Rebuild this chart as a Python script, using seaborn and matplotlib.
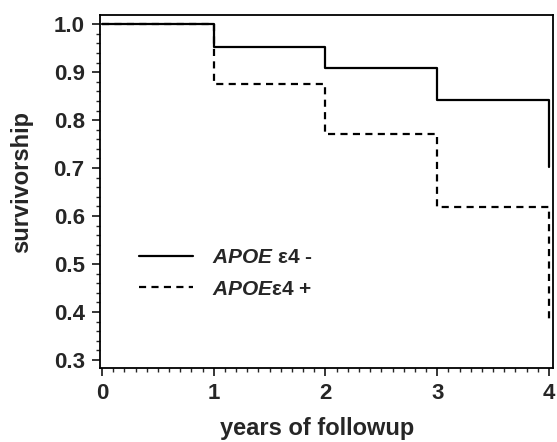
import pandas as pd
import matplotlib
matplotlib.use("Agg")
import matplotlib.pyplot as plt
import seaborn as sns
from matplotlib.ticker import MultipleLocator

years = [0, 1, 2, 3, 4]
surv_e4_neg = [1.0, 0.952, 0.909, 0.841, 0.703]
surv_e4_pos = [1.0, 0.875, 0.771, 0.619, 0.385]
groups = ["APOE ε4 -", "APOE ε4 +"]
legend_labels = [r"$\mathbfit{APOE}$ ε4 -", r"$\mathbfit{APOE}$ε4 +"]

df = pd.DataFrame({
    "year": years * 2,
    "surv": surv_e4_neg + surv_e4_pos,
    "group": [groups[0]] * len(years) + [groups[1]] * len(years),
})

sns.set_style("ticks")
plt.rcParams["font.family"] = ["Liberation Sans", "DejaVu Sans"]
plt.rcParams["font.weight"] = "bold"
plt.rcParams["mathtext.fontset"] = "custom"
plt.rcParams["mathtext.bfit"] = "Liberation Sans:bold:italic"
plt.rcParams["mathtext.it"] = "Liberation Sans:italic"
plt.rcParams["mathtext.bf"] = "Liberation Sans:bold"

fig = plt.figure(figsize=(5.57, 4.42), dpi=100)
ax = fig.add_axes([0.1795, 0.1674, 0.8133, 0.7986])

sns.lineplot(data=df, x="year", y="surv", style="group", style_order=groups,
             dashes={groups[0]: "", groups[1]: (3.2, 2.4)},
             color="black", linewidth=1.6, drawstyle="steps-post",
             legend=False, ax=ax)

ax.set_xlim(-0.018, 4.036)
ax.set_ylim(0.2833, 1.019)
ax.xaxis.set_major_locator(MultipleLocator(1))
ax.xaxis.set_minor_locator(MultipleLocator(0.1))
ax.yaxis.set_major_locator(MultipleLocator(0.1))
ax.yaxis.set_minor_locator(MultipleLocator(0.02))
ax.tick_params(which="major", direction="out", length=6, width=1.3, labelsize=16, pad=5)
ax.tick_params(which="minor", direction="out", length=3, width=1.0)
ax.set_yticks([0.3, 0.4, 0.5, 0.6, 0.7, 0.8, 0.9, 1.0])
ax.set_yticklabels(["0.3", "0.4", "0.5", "0.6", "0.7", "0.8", "0.9", "1.0"], fontweight="bold")
ax.set_xticks(years)
ax.set_xticklabels([str(y) for y in years], fontweight="bold")
for s in ax.spines.values():
    s.set_visible(True)
    s.set_linewidth(1.3)
    s.set_color("black")

ax.set_xlabel("years of followup", fontsize=17, fontweight="bold")
ax.set_ylabel("survivorship", fontsize=17, fontweight="bold")
ax.xaxis.set_label_coords(0.479, -0.14)
ax.yaxis.set_label_coords(-0.147, 0.527)

handles = ax.get_lines()[:2]
ax.legend(handles, legend_labels, loc="center left", bbox_to_anchor=(0.045, 0.268),
          frameon=False, fontsize=15, handlelength=2.6, handletextpad=0.9,
          labelspacing=0.6)

plt.savefig("out.png", dpi=100)
